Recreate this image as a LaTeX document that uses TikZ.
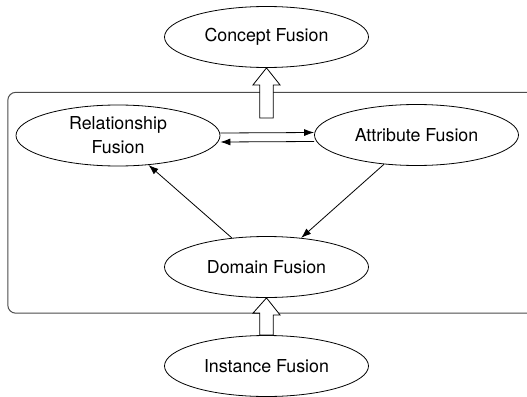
\documentclass[tikz,border=0pt]{standalone}
\usepackage{fontspec}
\setmainfont{TeX Gyre Heros}
\usetikzlibrary{shapes.geometric,arrows.meta,calc}
\tikzset{
  fus/.style={ellipse,draw=black,line width=0.8pt,fill=white,minimum width=204pt,minimum height=61pt,inner sep=0pt,align=center,font=\fontsize{17.8}{24}\selectfont,text=black},
  conn/.style={line width=0.8pt,-{Latex[length=10pt,width=7pt]}},
  blockarrow/.style={draw=black,line width=0.8pt,fill=white,line join=miter},
  frame/.style={draw=black!70,line width=1pt,rounded corners=8pt}
}
\begin{document}
\begin{tikzpicture}[x=1pt,y=1pt]
\useasboundingbox (0,0) rectangle (527,-396);
\clip (0,0) rectangle (527,-396);
\node[draw=none,fill=white,minimum width=552pt,minimum height=220.5pt,inner sep=0pt] (box) at (284,-202.75) {};
\draw[frame] (box.north west) rectangle (box.south east);
\node[fus] (concept) at (266.5,-37) {Concept Fusion};
\node[fus] (rel) at (118,-135.5) {Relationship\\Fusion};
\node[fus] (attr) at (416.5,-135) {Attribute Fusion};
\node[fus] (domain) at (266.5,-267) {Domain Fusion};
\node[fus] (inst) at (266.5,-366) {Instance Fusion};
% block arrow up to Concept Fusion
\draw[blockarrow] (concept.south) -- ++(13.5,-17) -- ++(-6.8,0) -- ++(0,-33) -- ++(-13.4,0) -- ++(0,33) -- ++(-6.8,0) -- cycle;
% block arrow from Instance Fusion to Domain Fusion
\draw[blockarrow] (domain.south) -- ++(13.5,-17) -- ++(-6.8,0) -- (inst.north -| {$(domain.south)+(6.7,0)$}) -- (inst.north -| {$(domain.south)+(-6.7,0)$}) -- ++(0,22) -- ++(-6.8,0) -- cycle;
% double arrows
\draw[conn] ([yshift=2.5pt]rel.east) -- ([yshift=2.5pt]attr.west);
\draw[conn] ([yshift=-6.5pt]attr.west) -- ([yshift=-6.5pt]rel.east);
% diagonal arrows
\draw[conn] (domain.140) -- (rel.-44);
\draw[conn] (attr.-138) -- (domain.40);
\end{tikzpicture}
\end{document}
